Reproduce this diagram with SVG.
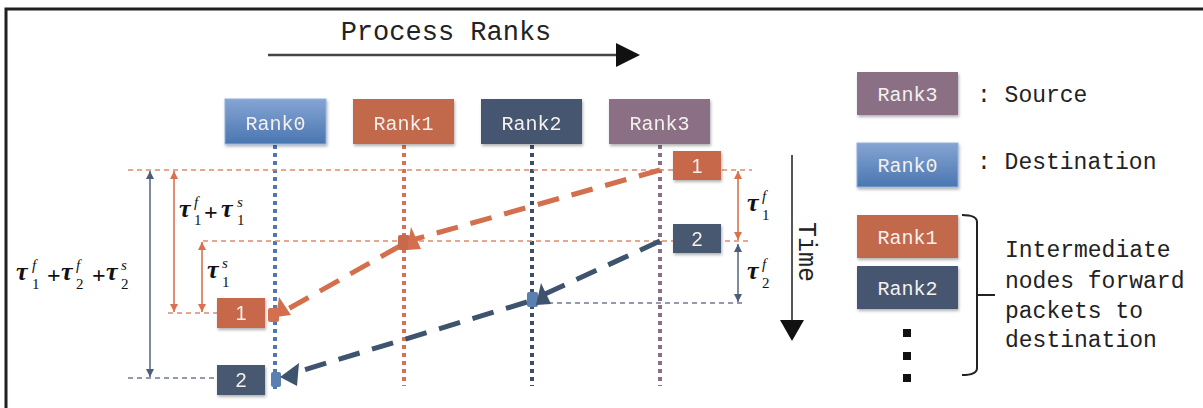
<svg xmlns="http://www.w3.org/2000/svg" width="1203" height="408" viewBox="0 0 1203 408">
<defs>
<style>
.mono{font-family:"Liberation Mono","Courier New",monospace;}
.rk{font-family:"Liberation Mono",monospace;font-size:20px;fill:#f4f0ee;text-anchor:middle;}
.lg{font-family:"Liberation Mono",monospace;font-size:23px;fill:#222;}
.num{font-family:"Liberation Sans",Arial,sans-serif;font-size:20px;fill:#f6efec;text-anchor:middle;}
.tau{font-family:"Liberation Serif","Times New Roman",serif;font-style:italic;font-weight:bold;font-size:26px;fill:#111;}
.sc{font-family:"Liberation Serif","Times New Roman",serif;font-style:italic;font-size:15px;fill:#111;}
.sb{font-family:"Liberation Serif","Times New Roman",serif;font-size:15px;fill:#111;}
.pl{font-family:"Liberation Serif","Times New Roman",serif;font-weight:bold;font-size:24px;fill:#111;}
.vdot{stroke-width:4;stroke-dasharray:4 4;fill:none;}
.hdo{stroke:#e2896b;stroke-width:1.6;stroke-dasharray:5 4;fill:none;}
.hdb{stroke:#6d7a94;stroke-width:1.6;stroke-dasharray:5 4;fill:none;}
.dash{stroke-width:5;stroke-dasharray:22 13;fill:none;}
</style>
<linearGradient id="g0" x1="0" y1="0" x2="0" y2="1">
<stop offset="0" stop-color="#85a5d3"/>
<stop offset="1" stop-color="#4a76b1"/>
</linearGradient>
<filter id="sh" x="-10%" y="-10%" width="130%" height="140%">
<feDropShadow dx="1" dy="2" stdDeviation="1.5" flood-color="#000" flood-opacity="0.3"/>
</filter>
<marker id="mo" viewBox="0 0 10 10" refX="10" refY="5" markerWidth="8" markerHeight="8" markerUnits="userSpaceOnUse" orient="auto-start-reverse">
<path d="M0,0 L10,5 L0,10 z" fill="#d9714f"/>
</marker>
<marker id="mb" viewBox="0 0 10 10" refX="10" refY="5" markerWidth="8" markerHeight="8" markerUnits="userSpaceOnUse" orient="auto-start-reverse">
<path d="M0,0 L10,5 L0,10 z" fill="#4b5d7a"/>
</marker>
</defs>
<rect width="1203" height="408" fill="#fff"/>
<!-- frame -->
<path d="M6,408 L6,9 L1203,9" fill="none" stroke="#231f20" stroke-width="3"/>

<!-- header -->
<g id="header">
<text class="mono" x="446" y="40" font-size="27" text-anchor="middle" fill="#222">Process Ranks</text>
<line x1="268" y1="55" x2="620" y2="55" stroke="#444" stroke-width="2.5"/>
<polygon points="616,43 640,55 616,67" fill="#111"/>
</g>

<!-- time axis -->
<g id="time">
<line x1="792" y1="155" x2="792" y2="322" stroke="#555" stroke-width="2"/>
<polygon points="780,320 804,320 792,341" fill="#111"/>
<text class="mono" font-size="25" fill="#222" text-anchor="middle" transform="translate(799,252) rotate(90)">Time</text>
</g>

<!-- connectors -->
<g id="connectors">
<!-- vertical rank lines -->
<line class="vdot" x1="275" y1="145" x2="275" y2="392" stroke="#4f78b2"/>
<line class="vdot" x1="404" y1="145" x2="404" y2="386" stroke="#d8714f"/>
<line class="vdot" x1="532" y1="145" x2="532" y2="386" stroke="#3e4f6a"/>
<line class="vdot" x1="660" y1="145" x2="660" y2="386" stroke="#8c6f8b"/>
<!-- horizontal guides -->
<line class="hdo" x1="128" y1="170" x2="752" y2="170"/>
<line class="hdo" x1="203" y1="241" x2="752" y2="241"/>
<line class="hdo" x1="168" y1="313" x2="217" y2="313"/>
<line class="hdb" x1="128" y1="378" x2="217" y2="378"/>
<line class="hdb" x1="548" y1="303" x2="744" y2="303"/>
<!-- measurement arrows -->
<line x1="150" y1="171" x2="150" y2="377" stroke="#5d6c88" stroke-width="1.6" marker-start="url(#mb)" marker-end="url(#mb)"/>
<line x1="174" y1="171" x2="174" y2="312" stroke="#d9714f" stroke-width="1.6" marker-start="url(#mo)" marker-end="url(#mo)"/>
<line x1="202" y1="242" x2="202" y2="312" stroke="#d9714f" stroke-width="1.6" marker-start="url(#mo)" marker-end="url(#mo)"/>
<line x1="738" y1="171" x2="738" y2="240" stroke="#d9714f" stroke-width="1.6" marker-start="url(#mo)" marker-end="url(#mo)"/>
<line x1="738" y1="244" x2="738" y2="302" stroke="#5d6c88" stroke-width="1.6" marker-start="url(#mb)" marker-end="url(#mb)"/>
<!-- orange packet path -->
<path class="dash" d="M660,170 L412,240" stroke="#d46f4d"/>
<path class="dash" d="M400,246 L288,309" stroke="#d46f4d"/>
<rect x="398" y="235" width="12" height="15" rx="2" fill="#c8684c"/>
<polygon points="411,227 421,249 407,250" fill="#d46f4d"/>
<rect x="268" y="308" width="11" height="14" rx="2" fill="#d46f4d"/>
<polygon points="279,297 291,315 276,317" fill="#d46f4d"/>
<!-- blue packet path -->
<path class="dash" d="M660,241 L545,294" stroke="#3d536e"/>
<path class="dash" d="M527,302 L294,373" stroke="#3d536e"/>
<rect x="527" y="292" width="11" height="15" rx="2" fill="#5b7fae"/>
<polygon points="541,283 551,304 536,305" fill="#3d536e"/>
<rect x="271" y="372" width="10" height="15" rx="2" fill="#5b7fae"/>
<polygon points="280,377 299,363 297,386" fill="#3d536e"/>
</g>

<!-- rank nodes -->
<g id="rank0" filter="url(#sh)">
<rect x="225" y="99" width="101" height="45" fill="url(#g0)" stroke="#8fb0dc" stroke-width="1"/>
<text class="rk" x="275.5" y="130">Rank0</text>
</g>
<g id="rank1" filter="url(#sh)">
<rect x="353" y="99" width="101" height="45" fill="#c2674c"/>
<text class="rk" x="403.5" y="130">Rank1</text>
</g>
<g id="rank2" filter="url(#sh)">
<rect x="481" y="99" width="101" height="45" fill="#46566f"/>
<text class="rk" x="531.5" y="130">Rank2</text>
</g>
<g id="rank3" filter="url(#sh)">
<rect x="609" y="99" width="101" height="45" fill="#8b6f85"/>
<text class="rk" x="659.5" y="130">Rank3</text>
</g>

<!-- packet boxes -->
<g id="pkt1-right" filter="url(#sh)">
<rect x="673" y="151" width="48" height="29" fill="#c8684c"/>
<text class="num" x="697" y="173">1</text>
</g>
<g id="pkt2-right" filter="url(#sh)">
<rect x="673" y="224" width="48" height="29" fill="#46586f"/>
<text class="num" x="697" y="246">2</text>
</g>
<g id="pkt1-left" filter="url(#sh)">
<rect x="217" y="298" width="48" height="30" fill="#c8684c"/>
<text class="num" x="241" y="320">1</text>
</g>
<g id="pkt2-left" filter="url(#sh)">
<rect x="217" y="365" width="48" height="30" fill="#46586f"/>
<text class="num" x="241" y="387">2</text>
</g>

<!-- math labels -->
<g id="label-t1f-t1s">
<text class="tau" x="179" y="217">τ</text>
<text class="sc" x="194" y="207">f</text>
<text class="sb" x="194" y="225">1</text>
<text class="pl" x="204" y="220">+</text>
<text class="tau" x="221" y="217">τ</text>
<text class="sc" x="237" y="207">s</text>
<text class="sb" x="237" y="225">1</text>
</g>
<g id="label-t1s">
<text class="tau" x="207" y="278">τ</text>
<text class="sc" x="222" y="268">s</text>
<text class="sb" x="222" y="287">1</text>
</g>
<g id="label-total">
<text class="tau" x="16" y="280">τ</text>
<text class="sc" x="32" y="270">f</text>
<text class="sb" x="32" y="289">1</text>
<text class="pl" x="47" y="283">+</text>
<text class="tau" x="61" y="280">τ</text>
<text class="sc" x="76" y="270">f</text>
<text class="sb" x="76" y="289">2</text>
<text class="pl" x="92" y="283">+</text>
<text class="tau" x="106" y="280">τ</text>
<text class="sc" x="121" y="270">s</text>
<text class="sb" x="121" y="289">2</text>
</g>
<g id="label-t1f">
<text class="tau" x="747" y="211">τ</text>
<text class="sc" x="762" y="201">f</text>
<text class="sb" x="762" y="220">1</text>
</g>
<g id="label-t2f">
<text class="tau" x="747" y="279">τ</text>
<text class="sc" x="762" y="269">f</text>
<text class="sb" x="762" y="288">2</text>
</g>

<!-- legend -->
<g id="legend-source">
<rect x="857" y="72" width="101" height="43" fill="#8b6f85" filter="url(#sh)"/>
<text class="rk" x="907.5" y="101">Rank3</text>
<text class="lg" x="977" y="102">: Source</text>
</g>
<g id="legend-destination">
<rect x="857" y="143" width="101" height="44" fill="url(#g0)" stroke="#8fb0dc" stroke-width="1" filter="url(#sh)"/>
<text class="rk" x="907.5" y="172">Rank0</text>
<text class="lg" x="977" y="169">: Destination</text>
</g>
<g id="legend-intermediate">
<rect x="857" y="215" width="101" height="43" fill="#c2674c" filter="url(#sh)"/>
<text class="rk" x="907.5" y="244">Rank1</text>
<rect x="857" y="266" width="101" height="43" fill="#46566f" filter="url(#sh)"/>
<text class="rk" x="907.5" y="295">Rank2</text>
<rect x="903" y="329" width="8" height="8" fill="#111"/>
<rect x="903" y="352" width="8" height="8" fill="#111"/>
<rect x="903" y="374" width="8" height="8" fill="#111"/>
<path d="M962,215 Q977,215 977,222 L977,368 Q977,375 962,375 M977,295 L995,295" fill="none" stroke="#222" stroke-width="2"/>
<text class="lg" x="1005" y="257">Intermediate</text>
<text class="lg" x="1005" y="288">nodes forward</text>
<text class="lg" x="1005" y="318">packets to</text>
<text class="lg" x="1005" y="347">destination</text>
</g>
</svg>
